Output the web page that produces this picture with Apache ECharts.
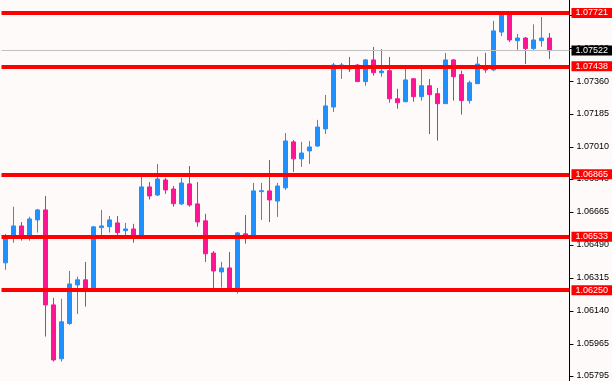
<!DOCTYPE html>
<html>
<head>
<meta charset="utf-8">
<script src="https://cdn.jsdelivr.net/npm/echarts@6/dist/echarts.min.js"></script>
<style>
html,body{margin:0;padding:0;background:#fffafa;}
#c{width:612px;height:381px;}
</style>
</head>
<body>
<div id="c"></div>
<script>
// Candles: [open, close, low, high]
const candles = [
  [1.06395, 1.06527, 1.06358, 1.06549],
  [1.06538, 1.06591, 1.06502, 1.06693],
  [1.06591, 1.06538, 1.06513, 1.06612],
  [1.06538, 1.06628, 1.06513, 1.06640],
  [1.06623, 1.06676, 1.06556, 1.06681],
  [1.06676, 1.06172, 1.06004, 1.06750],
  [1.06172, 1.05880, 1.05871, 1.06209],
  [1.05886, 1.06082, 1.05871, 1.06204],
  [1.06073, 1.06283, 1.06066, 1.06352],
  [1.06278, 1.06305, 1.06124, 1.06322],
  [1.06305, 1.06255, 1.06163, 1.06400],
  [1.06252, 1.06586, 1.06246, 1.06591],
  [1.06582, 1.06591, 1.06538, 1.06676],
  [1.06587, 1.06623, 1.06556, 1.06644],
  [1.06607, 1.06556, 1.06543, 1.06644],
  [1.06566, 1.06575, 1.06538, 1.06607],
  [1.06575, 1.06538, 1.06502, 1.06602],
  [1.06533, 1.06798, 1.06527, 1.06853],
  [1.06798, 1.06750, 1.06731, 1.06824],
  [1.06755, 1.06840, 1.06750, 1.06920],
  [1.06835, 1.06782, 1.06761, 1.06846],
  [1.06787, 1.06709, 1.06693, 1.06803],
  [1.06708, 1.06819, 1.06702, 1.06846],
  [1.06814, 1.06702, 1.06693, 1.06909],
  [1.06708, 1.06612, 1.06587, 1.06824],
  [1.06618, 1.06443, 1.06400, 1.06655],
  [1.06447, 1.06352, 1.06258, 1.06458],
  [1.06347, 1.06368, 1.06264, 1.06400],
  [1.06368, 1.06258, 1.06246, 1.06453],
  [1.06257, 1.06554, 1.06232, 1.06559],
  [1.06549, 1.06534, 1.06497, 1.06649],
  [1.06538, 1.06777, 1.06533, 1.06819],
  [1.06773, 1.06778, 1.06623, 1.06819],
  [1.06777, 1.06729, 1.06612, 1.06941],
  [1.06723, 1.06803, 1.06639, 1.06819],
  [1.06793, 1.07042, 1.06782, 1.07084],
  [1.07037, 1.06947, 1.06878, 1.07047],
  [1.06947, 1.06978, 1.06904, 1.07037],
  [1.06989, 1.07010, 1.06920, 1.07042],
  [1.07015, 1.07116, 1.07010, 1.07154],
  [1.07106, 1.07228, 1.07079, 1.07286],
  [1.07222, 1.07445, 1.07196, 1.07456],
  [1.07440, 1.07445, 1.07371, 1.07456],
  [1.07440, 1.07424, 1.07408, 1.07488],
  [1.07445, 1.07357, 1.07355, 1.07450],
  [1.07357, 1.07472, 1.07335, 1.07477],
  [1.07472, 1.07404, 1.07388, 1.07541],
  [1.07404, 1.07413, 1.07383, 1.07530],
  [1.07415, 1.07266, 1.07245, 1.07488],
  [1.07266, 1.07245, 1.07213, 1.07319],
  [1.07250, 1.07366, 1.07249, 1.07431],
  [1.07372, 1.07277, 1.07250, 1.07376],
  [1.07277, 1.07335, 1.07256, 1.07431],
  [1.07335, 1.07288, 1.07079, 1.07371],
  [1.07293, 1.07240, 1.07044, 1.07323],
  [1.07240, 1.07472, 1.07238, 1.07509],
  [1.07472, 1.07383, 1.07256, 1.07477],
  [1.07394, 1.07256, 1.07182, 1.07415],
  [1.07256, 1.07351, 1.07240, 1.07362],
  [1.07346, 1.07450, 1.07344, 1.07489],
  [1.07436, 1.07419, 1.07404, 1.07510],
  [1.07419, 1.07626, 1.07413, 1.07679],
  [1.07620, 1.07716, 1.07599, 1.07726],
  [1.07716, 1.07578, 1.07567, 1.07726],
  [1.07574, 1.07588, 1.07525, 1.07610],
  [1.07588, 1.07532, 1.07450, 1.07594],
  [1.07532, 1.07578, 1.07525, 1.07661],
  [1.07574, 1.07588, 1.07542, 1.07700],
  [1.07588, 1.07521, 1.07477, 1.07615]
];
const emptySlots = 2;
const categories = candles.map((_, i) => 'B' + (i + 1)).concat(['', ' ']);
const levels = [1.07721, 1.07438, 1.06865, 1.06533, 1.06250];
const bidPrice = 1.07522;
const tickValues = [1.07710, 1.07535, 1.07360, 1.07185, 1.07010, 1.06840, 1.06665, 1.06490, 1.06315, 1.06140, 1.05965, 1.05795];
const yMin = 1.05768, yMax = 1.07790;

const seriesData = candles.concat(Array(emptySlots).fill('-'));

const chart = echarts.init(document.getElementById('c'), null, {renderer: 'canvas'});
const fontFam = 'Liberation Sans, Arial, sans-serif';
const lblBase = {
  show: true, position: 'end', distance: 2, fontSize: 9,
  fontFamily: fontFam,
  color: '#ffffff', padding: [1, 4, 0, 4], lineHeight: 9,
  formatter: p => Number(p.value).toFixed(5)
};
const mlData = levels.map(v => ({
  yAxis: v,
  lineStyle: {color: '#ff0000', width: 4, type: 'solid'},
  label: Object.assign({}, lblBase, {backgroundColor: '#ff0000'})
}));
mlData.unshift({
  yAxis: bidPrice,
  lineStyle: {color: '#c0c0c0', width: 1, type: 'solid'},
  label: Object.assign({}, lblBase, {backgroundColor: '#000000'})
});

chart.setOption({
  animation: false,
  backgroundColor: '#fffafa',
  grid: {left: 1.5, right: 42.5, top: 0, bottom: 0, containLabel: false},
  xAxis: {
    type: 'category', data: categories, boundaryGap: true,
    axisLine: {show: false}, axisTick: {show: false}, axisLabel: {show: false}, splitLine: {show: false}
  },
  yAxis: {
    type: 'value', position: 'right', min: yMin, max: yMax, scale: true,
    axisLine: {show: true, lineStyle: {color: '#000', width: 1}},
    axisTick: {show: true, length: 4, lineStyle: {color: '#000'}, customValues: tickValues},
    axisLabel: {
      show: true, customValues: tickValues, margin: 7, fontSize: 9, color: '#000',
      fontFamily: fontFam,
      formatter: v => v.toFixed(5)
    },
    splitLine: {show: false}
  },
  series: [{
    type: 'candlestick',
    data: seriesData,
    barWidth: 4,
    itemStyle: {
      color: '#1e90ff', color0: '#ff1493',
      borderColor: '#1e90ff', borderColor0: '#ff1493',
      borderColorDoji: '#1e90ff', borderWidth: 1
    },
    markLine: {
      silent: true, symbol: ['none', 'none'], animation: false, precision: 5,
      data: mlData
    }
  }]
});
</script>
</body>
</html>
